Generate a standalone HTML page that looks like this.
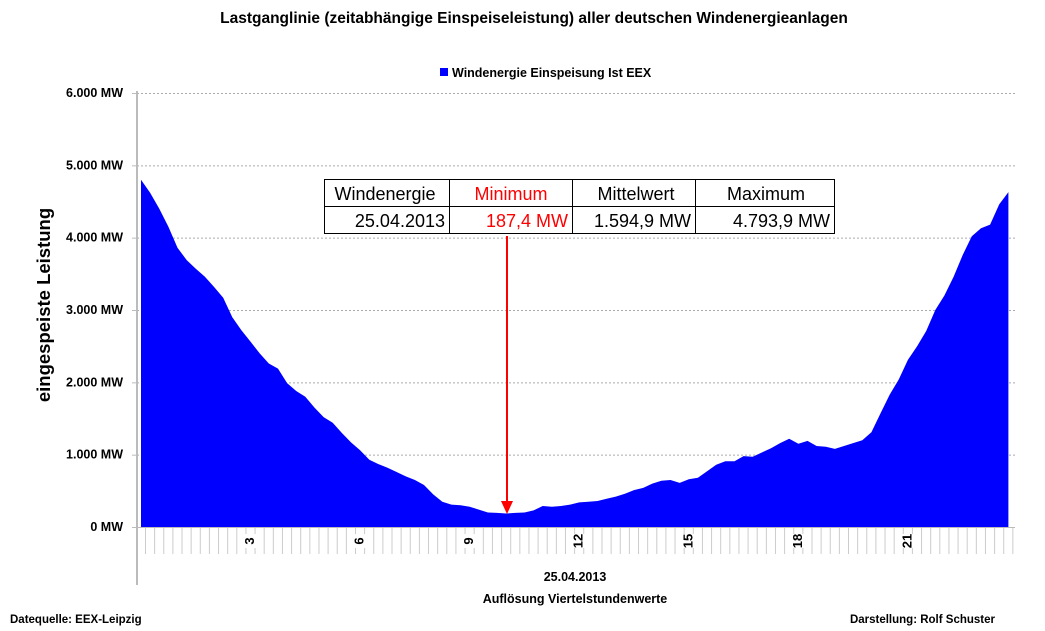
<!DOCTYPE html>
<html><head><meta charset="utf-8"><style>
body{margin:0;background:#fff;font-family:"Liberation Sans",sans-serif}
#c{position:relative;width:1045px;height:631px;overflow:hidden}
</style></head><body>
<div id="c">
<svg id="s" width="1045" height="631" xmlns="http://www.w3.org/2000/svg" font-family="Liberation Sans, sans-serif">
<text x="534" y="23" text-anchor="middle" font-size="15.5" font-weight="bold">Lastganglinie (zeitabhängige Einspeiseleistung) aller deutschen Windenergieanlagen</text>
<rect x="440" y="68" width="8" height="8" fill="#0000ff"/>
<text x="452" y="77" font-size="12.5" font-weight="bold">Windenergie Einspeisung Ist EEX</text>
<g id="grid"></g>
<path id="area" fill="#0000ff"/>
<line x1="137" y1="91" x2="137" y2="585" stroke="#bbb" stroke-width="2"/>
<line x1="132" y1="527.5" x2="1015" y2="527.5" stroke="#bbb"/>
<g id="ticks"></g>
<text transform="translate(50,305) rotate(-90)" text-anchor="middle" font-size="18.5" font-weight="bold">eingespeiste Leistung</text>
<text x="575" y="581" text-anchor="middle" font-size="12.5" font-weight="bold">25.04.2013</text>
<text x="575" y="603" text-anchor="middle" font-size="12.5" font-weight="bold">Auflösung Viertelstundenwerte</text>
<text x="10" y="623" font-size="11.5" font-weight="bold">Datequelle:  EEX-Leipzig</text>
<text x="995" y="623" text-anchor="end" font-size="11.5" font-weight="bold">Darstellung: Rolf Schuster</text>
<g font-size="18">
<rect x="324.5" y="179.5" width="510" height="54" fill="#fff" stroke="#000"/>
<line x1="324" y1="206.5" x2="834" y2="206.5" stroke="#000"/>
<line x1="449.5" y1="179" x2="449.5" y2="233" stroke="#000"/>
<line x1="572.5" y1="179" x2="572.5" y2="233" stroke="#000"/>
<line x1="695.5" y1="179" x2="695.5" y2="233" stroke="#000"/>
<text x="385" y="200" text-anchor="middle">Windenergie</text>
<text x="511" y="200" text-anchor="middle" fill="#ff0000">Minimum</text>
<text x="636" y="200" text-anchor="middle">Mittelwert</text>
<text x="766" y="200" text-anchor="middle">Maximum</text>
<text x="445" y="227" text-anchor="end">25.04.2013</text>
<text x="568" y="227" text-anchor="end" fill="#ff0000">187,4 MW</text>
<text x="691" y="227" text-anchor="end">1.594,9 MW</text>
<text x="830" y="227" text-anchor="end">4.793,9 MW</text>
</g>
<line x1="507" y1="236" x2="507" y2="502" stroke="#ff0000" stroke-width="2"/>
<polygon points="501,501 513,501 507,514" fill="#ff0000"/>
</svg>
</div>
<script>
const values=[4800,4620,4400,4150,3860,3690,3570,3460,3320,3170,2900,2720,2560,2400,2260,2190,1990,1880,1800,1650,1520,1440,1300,1170,1060,930,870,820,760,700,650,580,450,350,310,300,280,240,200,195,187,195,200,230,290,280,290,310,340,350,360,390,420,460,510,540,600,640,650,610,660,680,770,860,910,910,980,970,1030,1090,1160,1220,1150,1190,1120,1110,1080,1120,1160,1200,1310,1570,1830,2040,2310,2500,2710,3000,3200,3460,3760,4020,4130,4180,4460,4630];
const yTicks=[0,1000,2000,3000,4000,5000,6000];
const yTickLabels=["0 MW","1.000 MW","2.000 MW","3.000 MW","4.000 MW","5.000 MW","6.000 MW"];
const hourLabels=[3,6,9,12,15,18,21];
const NS="http://www.w3.org/2000/svg";
function yS(v){return 527-v*(434/6000);}
function xS(i){return 141+i*9.13;}
function xTick(q){return 145+q*9.13;}
const grid=document.getElementById('grid');
yTicks.forEach((t,k)=>{
  if(t>0){const l=document.createElementNS(NS,'line');
  l.setAttribute('x1',137);l.setAttribute('x2',1015);l.setAttribute('y1',yS(t)+0.5);l.setAttribute('y2',yS(t)+0.5);
  l.setAttribute('stroke','#aaa');l.setAttribute('stroke-dasharray','2,2');
  
  
  grid.appendChild(l);}
  const tk=document.createElementNS(NS,'line');
  tk.setAttribute('x1',132);tk.setAttribute('x2',137);tk.setAttribute('y1',yS(t)+0.5);tk.setAttribute('y2',yS(t)+0.5);tk.setAttribute('stroke','#bbb');
  
  
  grid.appendChild(tk);
  const tx=document.createElementNS(NS,'text');
  tx.setAttribute('x',123);tx.setAttribute('y',yS(t)+4);tx.setAttribute('text-anchor','end');
  tx.setAttribute('font-size','12.5');tx.setAttribute('font-weight','bold');tx.textContent=yTickLabels[k];
  
  
  grid.appendChild(tx);
});
let d='M'+xS(0)+','+yS(0);
values.forEach((v,i)=>{d+=' L'+xS(i).toFixed(1)+','+yS(v).toFixed(1);});
d+=' L'+xS(values.length-1).toFixed(1)+','+yS(0)+' Z';
document.getElementById('area').setAttribute('d',d);
const ticks=document.getElementById('ticks');
for(let q=0;q<96;q++){
  const l=document.createElementNS(NS,'line');
  const x=xTick(q)+0.5;
  l.setAttribute('x1',x);l.setAttribute('x2',x);l.setAttribute('y1',528);l.setAttribute('y2',554);l.setAttribute('stroke','#ccc');
  
  
  ticks.appendChild(l);
}
hourLabels.forEach(h=>{
  const x=141+h*4*9.13-1;
  const rb=document.createElementNS(NS,'rect');
  rb.setAttribute('x',x-5);rb.setAttribute('y',534);rb.setAttribute('width',12);rb.setAttribute('height',14);rb.setAttribute('fill','#fff');
  ticks.appendChild(rb);
  const t=document.createElementNS(NS,'text');
  t.setAttribute('transform','translate('+(x+4.5)+',541) rotate(-90)');
  t.setAttribute('text-anchor','middle');t.setAttribute('font-size','13');t.setAttribute('font-weight','bold');t.textContent=h;
  
  
  ticks.appendChild(t);
});
</script>
</body></html>
